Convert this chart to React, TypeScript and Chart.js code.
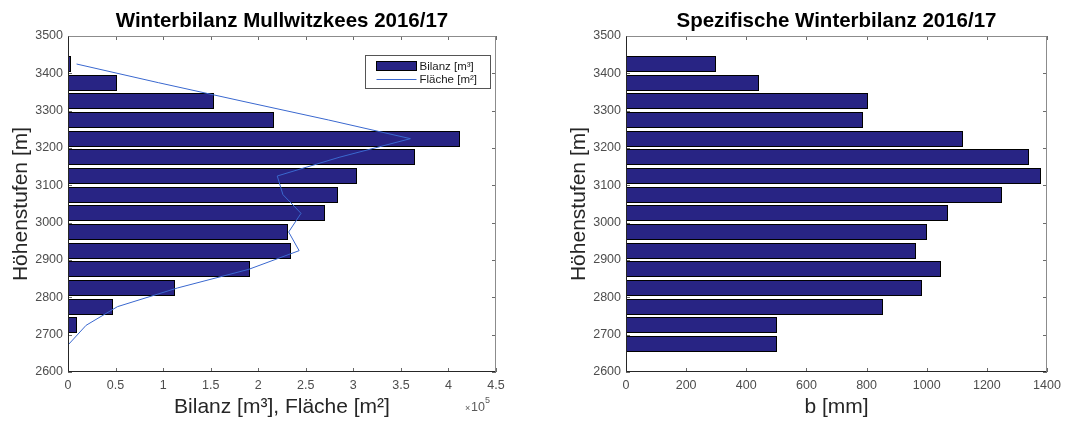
import React, { useEffect, useRef } from 'react';
import { Chart, registerables } from 'chart.js';

Chart.register(...registerables);
Chart.defaults.font.family = "'Liberation Sans', Arial, Helvetica, sans-serif";

// ---- Data ----
const elevations = [2675, 2725, 2775, 2825, 2875, 2925, 2975, 3025, 3075, 3125, 3175, 3225, 3275, 3325, 3375, 3425];
const bilanzM3 = [null, 9800, 47600, 112500, 191400, 234800, 231600, 270600, 283900, 303900, 365200, 412500, 216600, 153500, 51000, 3500];
const flaecheM2 = [1000, 19000, 52000, 115000, 190000, 243000, 232000, 245000, 226000, 220000, 285000, 360000, 274000, 184000, 95000, 9000];
const spezBilanzMm = [501, 503, 856, 985, 1047, 963, 1000, 1072, 1251, 1380, 1340, 1120, 789, 804, 442, 300];

const leftTitle = 'Winterbilanz Mullwitzkees 2016/17';
const rightTitle = 'Spezifische Winterbilanz 2016/17';
const yTitle = 'Höhenstufen [m]';
const leftXTitle = 'Bilanz [m³], Fläche [m²]';
const rightXTitle = 'b [mm]';
const barLabel = 'Bilanz [m³]';
const lineLabel = 'Fläche [m²]';

const BAR = '#282484';
const LINE = '#3a68cf';
const TICK = '#4d4d4d';
const AXTITLE = '#262626';

// snap bar edges to whole pixels so the black outlines stay crisp
const crispBars = {
  id: 'crispBars',
  beforeDatasetsDraw(chart: any) {
    chart.data.datasets.forEach((d: any, i: number) => {
      if (d.type !== 'bar') return;
      const meta = chart.getDatasetMeta(i);
      meta.data.forEach((el: any) => {
        if (el.skip) return;
        const h = Math.round(el.height);
        const topEdge = Math.round(el.y - el.height / 2);
        el.height = h;
        el.y = topEdge + h / 2;
        el.x = Math.round(el.x);
        el.base = Math.round(el.base);
      });
    });
  },
};

function framePlugin(opts: { legend: boolean; exponent: boolean }) {
  return {
    id: 'matlabFrame',
    afterDraw(chart: any) {
      const { ctx } = chart;
      const { left, right, top, bottom } = chart.chartArea;
      const xs = chart.scales.x;
      const ys = chart.scales.y;
      ctx.save();
      ctx.lineWidth = 1;
      // tick marks inside on all four sides
      ctx.strokeStyle = '#6a6a6a';
      const tl = 4;
      xs.ticks.forEach((t: any) => {
        const px = Math.round(xs.getPixelForValue(t.value)) + 0.5;
        ctx.beginPath();
        ctx.moveTo(px, bottom);
        ctx.lineTo(px, bottom - tl);
        ctx.moveTo(px, top);
        ctx.lineTo(px, top + tl);
        ctx.stroke();
      });
      ys.ticks.forEach((t: any) => {
        const py = Math.round(ys.getPixelForValue(t.value)) + 0.5;
        ctx.beginPath();
        ctx.moveTo(left, py);
        ctx.lineTo(left + tl, py);
        ctx.moveTo(right, py);
        ctx.lineTo(right - tl, py);
        ctx.stroke();
      });
      // box
      const L = Math.round(left) + 0.5;
      const R = Math.round(right) - 0.5;
      const T = Math.round(top) + 0.5;
      const B = Math.round(bottom) - 0.5;
      ctx.strokeStyle = '#8c8c8c';
      ctx.beginPath();
      ctx.moveTo(L, T);
      ctx.lineTo(R, T);
      ctx.lineTo(R, B);
      ctx.stroke();
      ctx.strokeStyle = '#262626';
      ctx.beginPath();
      ctx.moveTo(L, T);
      ctx.lineTo(L, B);
      ctx.lineTo(R, B);
      ctx.stroke();

      const fam = Chart.defaults.font.family as string;
      if (opts.legend) {
        const ds = chart.data.datasets;
        const bx = Math.round(right - 131) + 0.5;
        const by = Math.round(top + 19) + 0.5;
        const bw = 125;
        const bh = 33;
        ctx.fillStyle = '#ffffff';
        ctx.fillRect(bx, by, bw, bh);
        ctx.strokeStyle = '#555555';
        ctx.strokeRect(bx, by, bw, bh);
        const barDs = ds.find((d: any) => d.type === 'bar');
        const lineDs = ds.find((d: any) => d.type === 'line');
        // bar swatch
        ctx.fillStyle = barDs.backgroundColor;
        ctx.fillRect(bx + 11, by + 6, 40, 9);
        ctx.strokeStyle = '#000';
        ctx.strokeRect(bx + 11, by + 6, 40, 9);
        // line swatch
        ctx.strokeStyle = lineDs.borderColor;
        ctx.beginPath();
        ctx.moveTo(bx + 11, by + 24);
        ctx.lineTo(bx + 51, by + 24);
        ctx.stroke();
        ctx.fillStyle = '#1a1a1a';
        ctx.font = `11.5px ${fam}`;
        ctx.textAlign = 'left';
        ctx.textBaseline = 'middle';
        ctx.fillText(barDs.label, bx + 54, by + 11);
        ctx.fillText(lineDs.label, bx + 54, by + 24);
      }
      if (opts.exponent) {
        ctx.fillStyle = '#595959';
        ctx.textAlign = 'left';
        ctx.textBaseline = 'alphabetic';
        ctx.font = `9px ${fam}`;
        ctx.fillText('×', right - 31, bottom + 39);
        ctx.font = `12.5px ${fam}`;
        ctx.fillText('10', right - 25, bottom + 39);
        ctx.font = `9px ${fam}`;
        ctx.fillText('5', right - 11, bottom + 31);
      }
      ctx.restore();
    },
  };
}

function makeConfig(p: {
  title: string;
  xTitle: string;
  xMax: number;
  xStep: number;
  xFmt: (v: number) => string;
  yWidth: number;
  yTitlePad: number;
  padRight: number;
  datasets: any[];
  legend: boolean;
  exponent: boolean;
}) {
  return {
    type: 'bar',
    data: { datasets: p.datasets },
    options: {
      responsive: false,
      animation: false,
      devicePixelRatio: 1,
      indexAxis: 'y',
      layout: { padding: { left: 0, right: p.padRight, top: 0, bottom: 0 } },
      plugins: {
        legend: { display: false },
        tooltip: { enabled: false },
        title: {
          display: true,
          text: p.title,
          fullSize: false,
          color: '#000',
          font: { size: 20.5, weight: 'bold' },
          padding: { top: 8.7, bottom: 2.7 },
        },
      },
      scales: {
        x: {
          type: 'linear',
          position: 'bottom',
          min: 0,
          max: p.xMax,
          offset: false,
          grid: { display: false, drawTicks: false },
          border: { display: false },
          ticks: {
            stepSize: p.xStep,
            padding: 6,
            color: TICK,
            font: { size: 12.5 },
            maxRotation: 0,
            autoSkip: false,
            callback: (v: any) => p.xFmt(Number(v)),
          },
          title: {
            display: true,
            text: p.xTitle,
            color: AXTITLE,
            font: { size: 21 },
            padding: { top: 0, bottom: 2.4 },
          },
          afterFit: (s: any) => {
            s.height = 50;
          },
        },
        y: {
          type: 'linear',
          position: 'left',
          min: 2600,
          max: 3500,
          offset: false,
          grid: { display: false, drawTicks: false },
          border: { display: false },
          ticks: {
            stepSize: 100,
            padding: 5,
            color: TICK,
            font: { size: 12.5 },
            autoSkip: false,
            callback: (v: any) => String(v),
          },
          title: {
            display: true,
            text: yTitle,
            color: AXTITLE,
            font: { size: 21 },
            padding: { top: p.yTitlePad, bottom: 0 },
          },
          afterFit: (s: any) => {
            s.width = p.yWidth;
          },
        },
      },
    },
    plugins: [crispBars, framePlugin({ legend: p.legend, exponent: p.exponent })],
  };
}

function ChartCanvas({ build }: { build: () => any }) {
  const ref = useRef<HTMLCanvasElement>(null);
  useEffect(() => {
    const chart = new Chart(ref.current as HTMLCanvasElement, build());
    return () => chart.destroy();
  }, []);
  return <canvas ref={ref} width={535} height={422} style={{ display: 'block', width: 535, height: 422 }} />;
}

const buildLeft = () =>
  makeConfig({
    title: leftTitle,
    xTitle: leftXTitle,
    xMax: 450000,
    xStep: 50000,
    xFmt: (v) => String(Math.round(v / 1e4) / 10),
    yWidth: 68,
    yTitlePad: 8.4,
    padRight: 39,
    legend: true,
    exponent: true,
    datasets: [
      {
        type: 'line',
        label: lineLabel,
        indexAxis: 'y',
        data: elevations.map((e, i) => ({ x: flaecheM2[i], y: e })),
        borderColor: LINE,
        borderWidth: 1,
        pointRadius: 0,
        fill: false,
        tension: 0,
        order: 1,
      },
      {
        type: 'bar',
        label: barLabel,
        data: elevations.map((e, i) => ({ x: bilanzM3[i], y: e })),
        backgroundColor: BAR,
        borderColor: '#000',
        borderWidth: 1,
        borderSkipped: false,
        inflateAmount: 0,
        barPercentage: 0.84,
        categoryPercentage: 1,
        order: 2,
      },
    ],
  });

const buildRight = () =>
  makeConfig({
    title: rightTitle,
    xTitle: rightXTitle,
    xMax: 1400,
    xStep: 200,
    xFmt: (v) => String(v),
    yWidth: 91,
    yTitlePad: 31.4,
    padRight: 23,
    legend: false,
    exponent: false,
    datasets: [
      {
        type: 'bar',
        label: 'b [mm]',
        data: elevations.map((e, i) => ({ x: spezBilanzMm[i], y: e })),
        backgroundColor: BAR,
        borderColor: '#000',
        borderWidth: 1,
        borderSkipped: false,
        inflateAmount: 0,
        barPercentage: 0.84,
        categoryPercentage: 1,
      },
    ],
  });

export default function App() {
  return (
    <div style={{ position: 'absolute', left: 0, top: 0, width: 1070, height: 422, background: '#fff' }}>
      <div style={{ position: 'absolute', left: 0, top: 0 }}>
        <ChartCanvas build={buildLeft} />
      </div>
      <div style={{ position: 'absolute', left: 535, top: 0 }}>
        <ChartCanvas build={buildRight} />
      </div>
    </div>
  );
}
